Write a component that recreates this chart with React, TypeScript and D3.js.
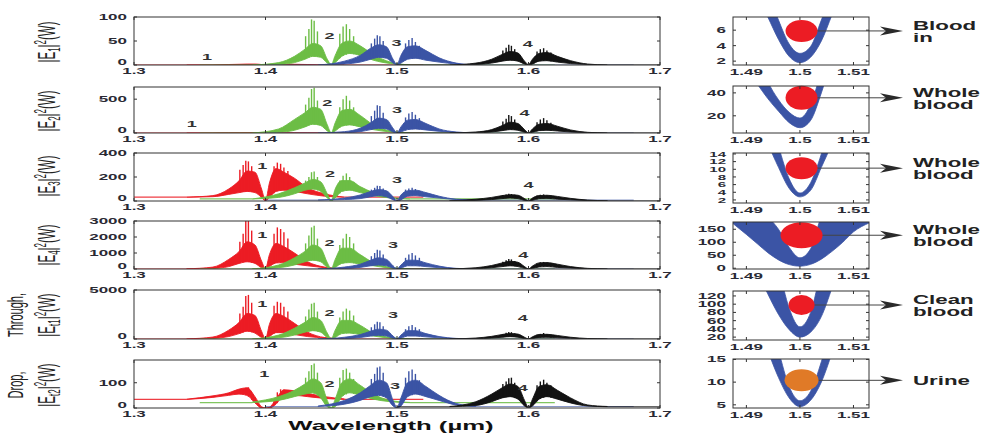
import React from "react";
import * as d3 from "d3";

const FONT = "'Liberation Sans', Arial, Helvetica, sans-serif";
const INK = "#2a2a34";

// ---- left column: four ring channels, each with two lobes around its dip ----
const channelNames = ["1", "2", "3", "4"];
const channelCenters = [1.4, 1.45, 1.5, 1.6];
const channelColors = ["#ec1c24", "#6cbd45", "#3b54a5", "#121212"];
const baseFrom = [1.3, 1.35, 1.4, 1.5];
const baseTo = [1.52, 1.62, 1.68, 1.7];
// offsets from the channel centre where the envelopes were read
const envOffsets = [-0.06, -0.04, -0.028, -0.02, -0.014, -0.008, -0.003, 0, 0.003, 0.008, 0.014, 0.022, 0.032, 0.045, 0.06];
// offsets of the tallest oscillation spikes
const spikeOffsets = [-0.0195, -0.017, -0.015, -0.013, -0.0105, 0.0065, 0.009, 0.0115, 0.014, 0.017];
const xTicks = [1.3, 1.4, 1.5, 1.6, 1.7];

// |E1|^2
const e1Ticks = [0, 50, 100];
const e1Base = [0, 0, 0, 0];
const e1Lo = [
  [0, 0, 0, 0, 0.5, 0.5, 0, 0, 0, 0.5, 0.5, 0, 0, 0, 0],
  [0, 1, 5, 12, 18, 16, 4, 0, 5, 18, 24, 20, 10, 3, 0],
  [0, 2, 6, 12, 16, 14, 4, 0, 4, 12, 14, 10, 6, 2, 0],
  [0, 1, 4, 8, 10, 8, 2, 0, 2, 8, 9, 6, 3, 1, 0],
];
const e1Hi = [
  [0, 0, 1, 1.5, 2, 2, 1, 0, 1, 2, 2, 1.5, 1, 0, 0],
  [0, 5, 18, 33, 45, 40, 12, 1, 20, 45, 50, 40, 22, 6, 0],
  [0, 8, 20, 35, 42, 38, 12, 1, 20, 38, 40, 30, 15, 4, 0],
  [0, 4, 12, 22, 28, 25, 8, 1, 12, 24, 26, 18, 9, 2, 0],
];
const e1Spikes = [
  [0, 0, 0, 0, 0, 0, 0, 0, 0, 0],
  [60, 75, 95, 92, 70, 65, 80, 85, 75, 60],
  [45, 55, 62, 60, 50, 45, 52, 56, 48, 40],
  [30, 36, 42, 40, 33, 28, 33, 35, 30, 26],
];
const e1Labels = [[1.3556, 17], [1.4486, 62], [1.4997, 46], [1.5994, 45]];

// |E2|^2
const e2Ticks = [0, 500];
const e2Base = [0, 0, 0, 0];
const e2Lo = [
  [0, 0, 0, 0, 1, 1, 0, 0, 0, 1, 1, 0, 0, 0, 0],
  [0, 10, 40, 90, 130, 110, 30, 0, 30, 100, 120, 90, 50, 15, 0],
  [0, 5, 20, 50, 70, 60, 15, 0, 15, 50, 60, 45, 25, 8, 0],
  [0, 3, 15, 35, 50, 40, 10, 0, 10, 35, 40, 30, 15, 5, 0],
];
const e2Hi = [
  [0, 0, 2, 3, 4, 4, 2, 0, 2, 4, 4, 3, 2, 0, 0],
  [0, 60, 200, 300, 380, 350, 120, 5, 150, 330, 350, 260, 120, 30, 0],
  [0, 20, 70, 150, 220, 200, 70, 3, 90, 190, 200, 140, 60, 15, 0],
  [0, 15, 50, 110, 160, 140, 50, 3, 60, 130, 140, 100, 45, 10, 0],
];
const e2Spikes = [
  [0, 0, 0, 0, 0, 0, 0, 0, 0, 0],
  [420, 520, 650, 670, 480, 380, 500, 550, 480, 380],
  [250, 330, 410, 400, 300, 230, 290, 310, 270, 220],
  [170, 210, 265, 250, 200, 160, 200, 220, 190, 150],
];
const e2Labels = [[1.344, 133], [1.447, 443], [1.5, 340], [1.597, 295]];

// |E3|^2
const e3Ticks = [0, 200, 400];
const e3Base = [32, 17, 8, 0];
const e3Lo = [
  [32, 36, 55, 70, 80, 70, 30, 0, 30, 80, 90, 80, 60, 40, 32],
  [17, 30, 60, 90, 100, 80, 25, 0, 25, 80, 90, 70, 45, 25, 17],
  [8, 12, 20, 35, 45, 35, 10, 0, 10, 40, 45, 35, 25, 12, 8],
  [0, 5, 12, 20, 25, 20, 5, 0, 5, 20, 22, 15, 10, 3, 0],
];
const e3Hi = [
  [32, 45, 100, 170, 250, 240, 100, 5, 150, 270, 240, 190, 110, 60, 32],
  [17, 60, 110, 150, 180, 160, 60, 3, 100, 170, 170, 120, 70, 30, 17],
  [8, 25, 50, 80, 95, 85, 35, 2, 50, 85, 90, 70, 40, 15, 8],
  [2, 15, 30, 45, 52, 48, 20, 2, 25, 45, 48, 38, 22, 8, 2],
];
const e3Spikes = [
  [260, 300, 335, 330, 290, 290, 320, 310, 280, 250],
  [170, 200, 240, 245, 200, 170, 210, 230, 200, 160],
  [95, 110, 128, 125, 105, 95, 105, 110, 100, 85],
  [50, 55, 60, 58, 52, 45, 52, 55, 48, 40],
];
const e3Labels = [[1.3975, 298], [1.449, 230], [1.5, 179], [1.6, 136]];

// |E4|^2
const e4Ticks = [0, 1000, 2000, 3000];
const e4Base = [0, 0, 0, 0];
const e4Lo = [
  [0, 30, 150, 350, 450, 350, 80, 0, 150, 380, 400, 300, 200, 80, 0],
  [0, 80, 250, 450, 550, 450, 100, 0, 100, 350, 400, 300, 200, 50, 0],
  [0, 30, 100, 200, 250, 200, 50, 0, 50, 200, 200, 150, 80, 20, 0],
  [0, 20, 80, 150, 200, 150, 40, 0, 40, 130, 150, 100, 60, 15, 0],
];
const e4Hi = [
  [10, 120, 600, 1100, 1700, 1500, 500, 30, 900, 1600, 1400, 1000, 450, 120, 10],
  [10, 250, 700, 1100, 1500, 1300, 400, 20, 600, 1300, 1300, 900, 400, 100, 10],
  [10, 120, 300, 550, 700, 600, 200, 10, 250, 550, 550, 380, 180, 40, 5],
  [5, 80, 220, 380, 480, 420, 150, 10, 180, 380, 400, 300, 150, 40, 5],
];
const e4Spikes = [
  [1700, 2200, 3000, 3000, 2400, 2200, 2600, 2500, 2300, 1900],
  [1600, 2100, 2600, 2700, 1900, 1500, 1900, 2200, 2000, 1600],
  [800, 1000, 1200, 1150, 900, 700, 900, 1000, 850, 700],
  [450, 550, 620, 600, 500, 350, 420, 440, 400, 350],
];
const e4Labels = [[1.3975, 2125], [1.4486, 1625], [1.497, 1500], [1.596, 875]];

// Through, |Et1|^2
const e5Ticks = [0, 5000];
const e5Base = [0, 0, 0, 0];
const e5Lo = [
  [0, 50, 250, 550, 800, 600, 150, 0, 250, 650, 650, 450, 250, 100, 0],
  [0, 120, 400, 700, 850, 700, 150, 0, 150, 550, 600, 450, 300, 80, 0],
  [0, 40, 150, 300, 380, 300, 80, 0, 80, 300, 300, 220, 120, 30, 0],
  [0, 25, 100, 180, 240, 180, 50, 0, 50, 160, 180, 120, 70, 20, 0],
];
const e5Hi = [
  [10, 200, 900, 1700, 2600, 2400, 800, 30, 1500, 2600, 2300, 1600, 700, 150, 10],
  [10, 400, 1100, 1700, 2200, 1900, 600, 30, 900, 1900, 1900, 1400, 600, 150, 10],
  [10, 180, 450, 800, 1000, 900, 300, 15, 400, 850, 850, 550, 250, 60, 5],
  [5, 100, 270, 460, 560, 500, 180, 10, 220, 460, 480, 360, 180, 50, 5],
];
const e5Spikes = [
  [2600, 3300, 4400, 4500, 3700, 3400, 3800, 3700, 3300, 2800],
  [2300, 3000, 3600, 3700, 2800, 2200, 2800, 3100, 2900, 2400],
  [1200, 1500, 1750, 1700, 1300, 1000, 1300, 1430, 1200, 1000],
  [520, 640, 715, 700, 580, 430, 520, 610, 500, 420],
];
const e5Labels = [[1.3975, 3570], [1.4486, 2650], [1.497, 2450], [1.5956, 2140]];

// Drop, |Et2|^2
const e6Ticks = [0, 100];
const e6Base = [34, 21, 6, 5];
const e6Lo = [
  [34, 42, 50, 55, 50, 20, 0, 0, 0, 15, 50, 50, 45, 38, 34],
  [22, 30, 45, 55, 60, 40, 5, 0, 5, 45, 60, 50, 35, 25, 21],
  [6, 15, 30, 45, 50, 40, 8, 0, 8, 45, 55, 45, 30, 12, 6],
  [5, 10, 25, 40, 45, 35, 8, 0, 8, 35, 45, 35, 20, 8, 5],
];
const e6Hi = [
  [35, 48, 60, 75, 80, 45, 5, 0, 3, 35, 72, 68, 58, 45, 36],
  [24, 45, 70, 95, 115, 100, 30, 0, 35, 100, 115, 90, 55, 30, 22],
  [8, 30, 60, 90, 110, 100, 30, 2, 40, 100, 110, 85, 50, 18, 7],
  [6, 25, 55, 80, 95, 85, 30, 2, 35, 85, 92, 70, 40, 12, 6],
];
const e6Spikes = [
  [72, 76, 80, 82, 60, 30, 62, 74, 72, 66],
  [120, 145, 170, 176, 140, 120, 150, 156, 140, 115],
  [115, 135, 160, 164, 140, 120, 145, 152, 135, 110],
  [95, 105, 118, 120, 100, 90, 105, 112, 100, 90],
];
const e6Labels = [[1.399, 136], [1.4486, 96], [1.4985, 88], [1.5956, 80]];

// ---- right column: zoom on the 1.5 um dip for each sample ----
const zoomTicks = [1.49, 1.5, 1.51];
const zoomX = [1.4875, 1.49, 1.492, 1.494, 1.496, 1.498, 1.5, 1.502, 1.504, 1.506, 1.508, 1.51, 1.513];
const r1Outer = [20, 14, 10.5, 7.7, 4.8, 2.6, 1.8, 2.5, 4.6, 8, 11.5, 15, 22];
const r1Inner = [30, 22, 16, 11, 7.3, 4.2, 3.0, 3.9, 7.3, 11, 16, 22, 30];
const r2Outer = [80, 62, 48, 35, 24, 14, 9.6, 16, 40, 70, 100, 130, 170];
const r2Inner = [150, 110, 75, 50, 34, 23, 18, 30, 60, 100, 140, 180, 240];
const r3Outer = [60, 40, 26, 17, 10.5, 5, 2.8, 4.5, 10.5, 17, 26, 38, 60];
const r3Inner = [90, 60, 40, 26, 16, 7.5, 3.8, 6.5, 14, 24, 36, 50, 80];
const r4Outer = [172, 130, 95, 60, 32, 14, 8, 15, 35, 65, 100, 140, 175];
const r4Inner = [400, 320, 250, 200, 150, 80, 40, 75, 200, 260, 330, 400, 480];
const r5Outer = [400, 260, 180, 125, 75, 38, 20, 32, 70, 140, 220, 300, 420];
const r5Inner = [800, 560, 420, 300, 190, 90, 45, 80, 190, 320, 460, 600, 820];
const r6Outer = [50, 34, 24, 17, 11, 6.5, 4.6, 6, 10, 16.5, 24, 34, 50];
const r6Inner = [80, 55, 38, 26, 17, 9, 5.9, 8, 14.5, 23, 34, 48, 70];
const zoomDomains = [[1.5, 7.7], [5, 46], [1.2, 14.25], [-3, 178], [13, 132], [4.3, 15.1]];
const zoomYTicks = [[2, 4, 6], [20, 40], [2, 4, 6, 8, 10, 12, 14], [0, 50, 100, 150], [20, 40, 60, 80, 100, 120], [5, 10, 15]];
const spotLevel = [5.9, 35.7, 10.3, 127, 98, 10.4];
const spotColor = ["#ec1c24", "#ec1c24", "#ec1c24", "#ec1c24", "#ec1c24", "#e07a27"];
const sampleNames = [["Blood", "in"], ["Whole", "blood"], ["Whole", "blood"], ["Whole", "blood"], ["Clean", "blood"], ["Urine"]];

// layout (pixels)
const rowTop = [17, 87, 153, 221, 290, 360];
const rowBottom = [65, 133, 201, 269, 339, 408];
const zoomTop = [17, 86, 153, 222, 291, 359];
const zoomBottom = [65, 133, 203, 269, 340, 408];
const spotR = [[16, 11], [16, 12], [16, 11], [21, 13], [13, 10], [17, 11]];

function SText({ x, y, sx = 2, size = 8.5, weight = "bold", anchor = "middle", dy = "0.35em", fill = INK, children }: any) {
  return (
    <text transform={`translate(${x},${y}) scale(${sx},1)`} fontSize={size} fontWeight={weight}
      textAnchor={anchor} dy={dy} fill={fill} fontFamily={FONT}>
      {children}
    </text>
  );
}

function SpectrumPanel({ idx, yMax, ticks, base, lo, hi, spikes, labels }: any) {
  const top = rowTop[idx], bottom = rowBottom[idx];
  const x = d3.scaleLinear().domain([1.3, 1.7]).range([134, 660]);
  const y = d3.scaleLinear().domain([0, yMax]).range([bottom, top]);
  const clip = `clipL${idx}`;
  return (
    <g>
      <defs>
        <clipPath id={clip}><rect x={x(1.3)} y={top} width={x(1.7) - x(1.3)} height={bottom - top} /></clipPath>
      </defs>
      <g clipPath={`url(#${clip})`}>
        {channelCenters.map((c, ci) => {
          const area = d3.area<number>()
            .x((o) => x(c + o))
            .y0((_, i) => y(lo[ci][i]))
            .y1((_, i) => y(hi[ci][i]))
            .curve(d3.curveMonotoneX);
          const loAt = d3.scaleLinear().domain(envOffsets).range(lo[ci]);
          const col = channelColors[ci];
          return (
            <g key={ci}>
              <line x1={x(baseFrom[ci])} x2={x(c + envOffsets[0])} y1={y(base[ci])} y2={y(base[ci])}
                stroke={col} strokeWidth={1.2} opacity={ci === 2 ? 0.6 : 0.85} />
              <line x1={x(c + envOffsets[envOffsets.length - 1])} x2={x(baseTo[ci])} y1={y(base[ci])} y2={y(base[ci])}
                stroke={col} strokeWidth={1.2} opacity={ci === 2 ? 0.6 : 0.85} />
              <path d={area(envOffsets) ?? ""} fill={col} stroke={col} strokeWidth={0.9} />
              {spikeOffsets.map((o, k) => spikes[ci][k] > loAt(o) ? (
                <line key={k} x1={x(c + o)} x2={x(c + o)} y1={y(loAt(o))} y2={y(spikes[ci][k])}
                  stroke={col} strokeWidth={1.4} />
              ) : null)}
            </g>
          );
        })}
      </g>
      <rect x={x(1.3)} y={top} width={x(1.7) - x(1.3)} height={bottom - top} fill="none" stroke="#333" strokeWidth={1} />
      {xTicks.map((t) => (
        <g key={t}>
          <line x1={x(t)} x2={x(t)} y1={bottom} y2={bottom - 3} stroke="#333" />
          <line x1={x(t)} x2={x(t)} y1={top} y2={top + 3} stroke="#333" />
          <SText x={x(t)} y={bottom + 6.5}>{t.toFixed(1)}</SText>
        </g>
      ))}
      {ticks.map((t: number) => (
        <g key={t}>
          <line x1={x(1.3)} x2={x(1.3) + 3} y1={y(t)} y2={y(t)} stroke="#333" />
          <line x1={x(1.7)} x2={x(1.7) - 3} y1={y(t)} y2={y(t)} stroke="#333" />
          <SText x={x(1.3) - 7} y={y(t) - (t === 0 ? 2.5 : 0)} anchor="end">{t}</SText>
        </g>
      ))}
      {labels.map((p: number[], i: number) => (
        <SText key={i} x={x(p[0])} y={y(p[1])} size={9.5} sx={1.9} fill="#333">{channelNames[i]}</SText>
      ))}
    </g>
  );
}

function ZoomPanel({ idx, outer, inner }: any) {
  const top = zoomTop[idx], bottom = zoomBottom[idx];
  const x = d3.scaleLinear().domain([1.4875, 1.5129]).range([733, 869]);
  const y = d3.scaleLinear().domain(zoomDomains[idx]).range([bottom, top]);
  const clip = `clipR${idx}`;
  const area = d3.area<number>()
    .x((w) => x(w))
    .y0((_, i) => y(outer[i]))
    .y1((_, i) => y(inner[i]))
    .curve(d3.curveMonotoneX);
  const cy = y(spotLevel[idx]);
  const cx = x(1.5003);
  const tip = 903;
  const names = sampleNames[idx];
  return (
    <g>
      <defs>
        <clipPath id={clip}><rect x={733} y={top} width={136} height={bottom - top} /></clipPath>
      </defs>
      <g clipPath={`url(#${clip})`}>
        <path d={area(zoomX) ?? ""} fill="#3b54a5" stroke="#3b54a5" strokeWidth={0.8} />
      </g>
      <line x1={cx} x2={tip - 16} y1={cy} y2={cy} stroke="#444" strokeWidth={1} />
      <path d={`M${tip},${cy} L${tip - 23},${cy - 4.5} L${tip - 17},${cy} L${tip - 23},${cy + 4.5} Z`} fill="#2a2a2a" />
      <ellipse cx={cx} cy={cy} rx={spotR[idx][0]} ry={spotR[idx][1]} fill={spotColor[idx]} />
      <rect x={733} y={top} width={136} height={bottom - top} fill="none" stroke="#333" strokeWidth={1} />
      {zoomTicks.map((t) => (
        <g key={t}>
          <line x1={x(t)} x2={x(t)} y1={bottom} y2={bottom - 3} stroke="#333" />
          <line x1={x(t)} x2={x(t)} y1={top} y2={top + 3} stroke="#333" />
          <SText x={x(t)} y={bottom + 7.5}>{String(t)}</SText>
        </g>
      ))}
      {zoomYTicks[idx].map((t) => (
        <g key={t}>
          <line x1={733} x2={736} y1={y(t)} y2={y(t)} stroke="#333" />
          <line x1={869} x2={866} y1={y(t)} y2={y(t)} stroke="#333" />
          <SText x={726} y={y(t)} anchor="end" size={idx === 2 ? 7.5 : 8.5}>{t}</SText>
        </g>
      ))}
      {names.length === 2 ? (
        <>
          <SText x={913} y={cy - 5} anchor="start" size={12} sx={1.86} fill="#222">{names[0]}</SText>
          <SText x={913} y={cy + 7} anchor="start" size={12} sx={1.86} fill="#222">{names[1]}</SText>
        </>
      ) : (
        <SText x={913} y={cy} anchor="start" size={12} sx={1.86} fill="#222">{names[0]}</SText>
      )}
    </g>
  );
}

function YLabel({ x, y, sub, pre }: any) {
  return (
    <g>
      {pre ? (
        <text transform={`translate(${x - 32},${y}) scale(2,1) rotate(-90)`} textAnchor="middle"
          fontSize={11} fill="#222" fontFamily={FONT}>{pre}</text>
      ) : null}
      <text transform={`translate(${x},${y}) scale(2,1) rotate(-90)`} textAnchor="middle"
        fontSize={11.5} fill="#222" fontFamily={FONT}>
        |E<tspan fontSize={8} dy={2.5}>{sub}</tspan><tspan dy={-2.5}>|</tspan>
        <tspan fontSize={8} dy={-4.5}>2</tspan><tspan dy={4.5}>(W)</tspan>
      </text>
    </g>
  );
}

export default function App() {
  return (
    <svg width={982} height={434} style={{ position: "absolute", left: 0, top: 0, background: "#fff" }}>
      <rect width={982} height={434} fill="#fff" />
      <SpectrumPanel idx={0} yMax={100} ticks={e1Ticks} base={e1Base} lo={e1Lo} hi={e1Hi} spikes={e1Spikes} labels={e1Labels} />
      <SpectrumPanel idx={1} yMax={680} ticks={e2Ticks} base={e2Base} lo={e2Lo} hi={e2Hi} spikes={e2Spikes} labels={e2Labels} />
      <SpectrumPanel idx={2} yMax={400} ticks={e3Ticks} base={e3Base} lo={e3Lo} hi={e3Hi} spikes={e3Spikes} labels={e3Labels} />
      <SpectrumPanel idx={3} yMax={3000} ticks={e4Ticks} base={e4Base} lo={e4Lo} hi={e4Hi} spikes={e4Spikes} labels={e4Labels} />
      <SpectrumPanel idx={4} yMax={5000} ticks={e5Ticks} base={e5Base} lo={e5Lo} hi={e5Hi} spikes={e5Spikes} labels={e5Labels} />
      <SpectrumPanel idx={5} yMax={190} ticks={e6Ticks} base={e6Base} lo={e6Lo} hi={e6Hi} spikes={e6Spikes} labels={e6Labels} />

      <YLabel x={55} y={42} sub="1" />
      <YLabel x={55} y={111} sub="2" />
      <YLabel x={55} y={176} sub="3" />
      <YLabel x={55} y={245} sub="4" />
      <YLabel x={55} y={315} sub="t1" pre="Through," />
      <YLabel x={55} y={385} sub="t2" pre="Drop," />

      <ZoomPanel idx={0} outer={r1Outer} inner={r1Inner} />
      <ZoomPanel idx={1} outer={r2Outer} inner={r2Inner} />
      <ZoomPanel idx={2} outer={r3Outer} inner={r3Inner} />
      <ZoomPanel idx={3} outer={r4Outer} inner={r4Inner} />
      <ZoomPanel idx={4} outer={r5Outer} inner={r5Inner} />
      <ZoomPanel idx={5} outer={r6Outer} inner={r6Inner} />

      <text transform="translate(391,430) scale(1.98,1)" textAnchor="middle" fontSize={13}
        fontWeight="bold" fill="#111" fontFamily={FONT}>Wavelength (µm)</text>
    </svg>
  );
}
